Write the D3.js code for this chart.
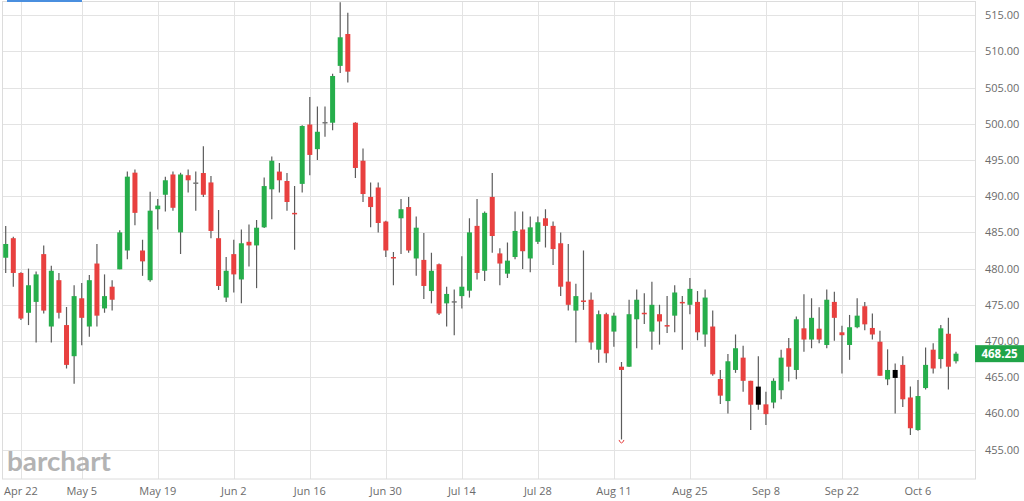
<!DOCTYPE html>
<html>
<head>
<meta charset="utf-8">
<script src="https://cdn.jsdelivr.net/npm/d3@7"></script>
<style>
  html, body { margin: 0; padding: 0; background: #fff; }
  svg { display: block; }
</style>
</head>
<body>
<div id="chart"></div>
<script>
// daily OHLC, one entry per trading session
var opens = [481.5, 484.2, 479.4, 473.9, 475.4, 482.0, 472.0, 478.4, 472.2, 467.9,
  475.9, 472.0, 480.7, 474.5, 477.5, 479.9, 482.5, 493.25, 482.5, 478.4,
  488.2, 490.2, 493.0, 485.0, 492.9, 491.9, 493.2, 491.9, 484.2, 476.0,
  482.0, 478.5, 483.7, 483.2, 485.7, 490.95, 493.4, 492.1, 487.7, 491.7,
  499.9, 496.5, 500.25, 500.15, 508.0, 512.4, 500.15, 494.9, 489.9, 491.2,
  486.5, 481.6, 486.95, 488.5, 481.4, 481.2, 476.9, 480.6, 475.2, 475.5,
  476.2, 476.95, 485.9, 479.7, 489.9, 482.1, 479.3, 481.6, 485.4, 481.4,
  483.7, 486.95, 485.9, 483.5, 478.2, 474.2, 475.6, 475.7, 468.8, 473.7,
  471.3, 466.45, 466.45, 473.0, 473.9, 471.3, 473.7, 472.2, 473.5, 475.4,
  475.0, 475.4, 470.9, 472.0, 464.75, 461.7, 466.0, 467.7, 464.5, 463.7,
  461.25, 461.5, 463.2, 469.0, 466.0, 471.75, 470.2, 471.7, 469.45, 475.4,
  471.2, 469.45, 471.9, 474.8, 471.8, 469.9, 464.7, 464.9, 466.7, 462.2,
  457.7, 463.5, 468.8, 467.5, 471.0, 467.2];
var highs = [485.9, 484.4, 479.5, 480.0, 479.6, 483.2, 480.4, 479.4, 474.7, 477.7,
  478.0, 479.1, 483.4, 479.2, 478.4, 485.3, 493.4, 493.7, 484.0, 490.6,
  489.6, 492.7, 493.4, 493.25, 493.7, 493.4, 496.9, 492.8, 488.1, 481.6,
  484.0, 485.4, 486.1, 486.7, 492.6, 495.5, 494.6, 493.2, 491.4, 499.8,
  503.7, 502.4, 502.4, 506.9, 516.8, 515.35, 500.2, 496.6, 491.9, 491.9,
  486.6, 482.3, 489.6, 489.9, 487.2, 484.9, 482.2, 480.7, 477.5, 477.1,
  481.7, 486.95, 489.6, 487.9, 493.2, 482.8, 483.6, 487.9, 487.9, 487.2,
  487.2, 488.2, 486.5, 485.0, 483.4, 477.9, 482.5, 476.7, 474.2, 473.9,
  473.9, 467.1, 475.7, 477.1, 476.6, 478.2, 475.0, 476.2, 477.7, 476.2,
  478.7, 476.9, 477.1, 474.2, 466.0, 468.2, 470.9, 469.35, 464.5, 467.9,
  463.0, 464.85, 468.8, 470.4, 473.4, 476.45, 475.9, 474.65, 477.1, 476.8,
  472.1, 473.6, 475.9, 475.4, 473.8, 471.4, 468.85, 466.9, 467.9, 463.7,
  464.6, 469.1, 469.7, 472.2, 473.2, 468.5];
var lows = [479.4, 477.5, 472.9, 472.2, 469.8, 473.8, 469.8, 473.1, 466.2, 464.1,
  469.4, 470.6, 472.0, 473.9, 474.2, 479.9, 481.3, 486.0, 479.0, 478.2,
  485.4, 487.9, 488.0, 482.0, 490.5, 488.0, 489.9, 484.2, 477.05, 475.4,
  476.7, 475.2, 480.3, 477.3, 485.6, 486.8, 490.5, 488.0, 482.6, 490.5,
  492.9, 495.0, 498.2, 499.1, 507.0, 505.7, 492.5, 489.2, 485.7, 485.0,
  481.6, 477.7, 482.0, 482.2, 479.0, 475.8, 475.2, 473.6, 472.0, 470.8,
  474.5, 476.0, 478.5, 478.3, 482.2, 477.7, 478.7, 481.3, 479.95, 479.5,
  483.4, 482.9, 480.5, 476.2, 474.2, 469.8, 474.3, 468.8, 467.0, 467.0,
  469.2, 456.4, 466.4, 469.0, 472.35, 468.8, 469.5, 471.1, 471.2, 468.8,
  473.7, 470.1, 469.2, 465.2, 461.3, 460.0, 465.6, 463.0, 457.7, 460.5,
  458.4, 460.7, 461.95, 464.4, 464.7, 468.5, 469.0, 469.7, 469.0, 470.05,
  465.5, 467.4, 471.75, 471.5, 470.2, 465.2, 463.9, 460.0, 460.9, 457.0,
  457.6, 463.3, 465.5, 466.2, 463.3, 466.9];
var closes = [483.4, 479.4, 473.1, 477.7, 479.2, 474.2, 479.7, 473.9, 466.7, 476.2,
  473.2, 478.4, 473.5, 476.2, 475.7, 485.0, 492.7, 487.7, 481.0, 488.0,
  488.7, 492.2, 488.4, 493.0, 492.2, 491.9, 490.2, 485.2, 477.6, 479.7,
  479.2, 483.5, 483.2, 485.65, 491.4, 494.9, 492.2, 489.2, 487.5, 499.7,
  495.7, 498.9, 500.25, 506.6, 511.95, 507.2, 493.9, 490.3, 488.5, 486.3,
  482.5, 481.4, 488.2, 482.5, 485.65, 477.6, 479.7, 473.8, 476.5, 475.5,
  477.5, 485.0, 479.4, 487.7, 484.5, 480.7, 481.1, 485.2, 482.4, 485.7,
  486.4, 485.9, 482.7, 477.5, 475.0, 476.2, 475.4, 469.8, 473.7, 468.3,
  473.5, 466.0, 473.7, 475.7, 473.7, 475.0, 472.7, 472.0, 476.7, 475.3,
  477.2, 471.2, 476.0, 465.4, 462.45, 467.2, 469.0, 464.5, 461.2, 461.2,
  459.9, 464.5, 467.7, 466.45, 473.0, 470.2, 473.2, 470.2, 475.7, 473.2,
  470.8, 471.9, 473.5, 472.3, 470.9, 465.2, 466.0, 466.0, 461.95, 457.95,
  462.4, 466.7, 466.2, 471.75, 466.45, 468.25];

// session index of each date label
var tickIndex = [2, 10, 20, 30, 40, 50, 60, 70, 80, 90, 100, 110, 120];
var tickLabels = ["Apr 22", "May 5", "May 19", "Jun 2", "Jun 16", "Jun 30", "Jul 14",
  "Jul 28", "Aug 11", "Aug 25", "Sep 8", "Sep 22", "Oct 6"];
var priceTicks = [455, 460, 465, 470, 475, 480, 485, 490, 495, 500, 505, 510, 515];
var lastPrice = 468.25;
var markerIndex = [81]; // red marker under the low

var width = 1024, height = 501;
var plotRight = 975, plotTop = 1.5, plotBottom = 479;

var green = "#26ae4b", red = "#e8403f";

var data = opens.map(function (o, i) {
  return { i: i, o: o, h: highs[i], l: lows[i], c: closes[i] };
});

var x = d3.scaleLinear()
  .domain([-0.75, 127.5])
  .range([0, plotRight]);

var y = d3.scaleLinear()
  .domain([455, 515])
  .range([449.6, 15.2]);

var svg = d3.select("#chart")
  .append("svg")
  .attr("width", width)
  .attr("height", height)
  .style("font-family", "'Open Sans', sans-serif");

svg.append("defs").append("clipPath").attr("id", "plot")
  .append("rect")
  .attr("x", 0).attr("y", plotTop)
  .attr("width", plotRight).attr("height", plotBottom - plotTop);

// grid
var grid = svg.append("g");
grid.selectAll(".hg")
  .data(priceTicks)
  .enter()
  .append("line")
  .attr("x1", 2).attr("x2", plotRight)
  .attr("y1", function (d) { return Math.round(y(d)) + 0.5; })
  .attr("y2", function (d) { return Math.round(y(d)) + 0.5; })
  .attr("stroke", "#e3e3e3");

grid.selectAll(".vg")
  .data(tickIndex)
  .enter()
  .append("line")
  .attr("x1", function (d) { return Math.round(x(d)) + 0.5; })
  .attr("x2", function (d) { return Math.round(x(d)) + 0.5; })
  .attr("y1", plotTop).attr("y2", plotBottom)
  .attr("stroke", "#e3e3e3");

// frame
svg.append("rect")
  .attr("x", 2.5).attr("y", plotTop)
  .attr("width", plotRight - 2).attr("height", plotBottom - plotTop)
  .attr("fill", "none")
  .attr("stroke", "#dcdcdc");

svg.append("rect")
  .attr("x", 7).attr("y", 0)
  .attr("width", 75).attr("height", 2)
  .attr("fill", "#4a8fdf");

// logo
svg.append("text")
  .attr("x", 7)
  .attr("y", 471)
  .attr("textLength", 104)
  .attr("lengthAdjust", "spacingAndGlyphs")
  .style("font-family", "Lato, sans-serif")
  .style("font-weight", 700)
  .style("font-size", "26px")
  .attr("fill", "#b3b3b3")
  .text("barchart");

// candles
function candleColor(d) {
  if (d.i > 0 && d.c === closes[d.i - 1]) return "#000";
  if (d.c > d.o) return green;
  if (d.c < d.o) return red;
  return "#777";
}

var candles = svg.append("g").attr("clip-path", "url(#plot)");

candles.selectAll(".wick")
  .data(data)
  .enter()
  .append("line")
  .attr("x1", function (d) { return x(d.i); })
  .attr("x2", function (d) { return x(d.i); })
  .attr("y1", function (d) { return y(d.h); })
  .attr("y2", function (d) { return y(d.l); })
  .attr("stroke", "#5c5c5c")
  .attr("stroke-width", 1.2);

candles.selectAll(".body")
  .data(data)
  .enter()
  .append("rect")
  .attr("x", function (d) { return x(d.i) - 2.5; })
  .attr("width", 5)
  .attr("y", function (d) { return y(Math.max(d.o, d.c)); })
  .attr("height", function (d) { return Math.max(1.5, Math.abs(y(d.o) - y(d.c))); })
  .attr("fill", candleColor);

// low marker
svg.selectAll(".marker")
  .data(markerIndex)
  .enter()
  .append("path")
  .attr("d", function (i) {
    var cx = x(i), cy = y(lows[i]) + 0.5;
    return "M" + (cx - 2.5) + "," + cy + " Q" + cx + "," + (cy + 6) + " " + (cx + 2.5) + "," + cy;
  })
  .attr("fill", "none")
  .attr("stroke", red)
  .attr("stroke-width", 1);

// right price axis
svg.append("g")
  .selectAll("text")
  .data(priceTicks)
  .enter()
  .append("text")
  .attr("x", 985)
  .attr("y", function (d) { return y(d) + 4; })
  .attr("fill", "#6b6b6b")
  .style("font-size", "11px")
  .text(d3.format(".2f"));

// date axis
svg.append("g")
  .selectAll("text")
  .data(tickIndex)
  .enter()
  .append("text")
  .attr("x", function (d) { return x(d); })
  .attr("y", 495)
  .attr("text-anchor", "middle")
  .attr("fill", "#6b6b6b")
  .style("font-size", "11px")
  .text(function (d, k) { return tickLabels[k]; });

// last price tag
var tag = svg.append("g");
tag.append("rect")
  .attr("x", plotRight)
  .attr("y", y(lastPrice) - 8.5)
  .attr("width", width - plotRight)
  .attr("height", 17)
  .attr("fill", "#21a448");
tag.append("text")
  .attr("x", plotRight + (width - plotRight) / 2)
  .attr("y", y(lastPrice) + 4)
  .attr("text-anchor", "middle")
  .attr("fill", "#fff")
  .style("font-size", "11.5px")
  .style("font-weight", 700)
  .text(d3.format(".2f")(lastPrice));
</script>
</body>
</html>
